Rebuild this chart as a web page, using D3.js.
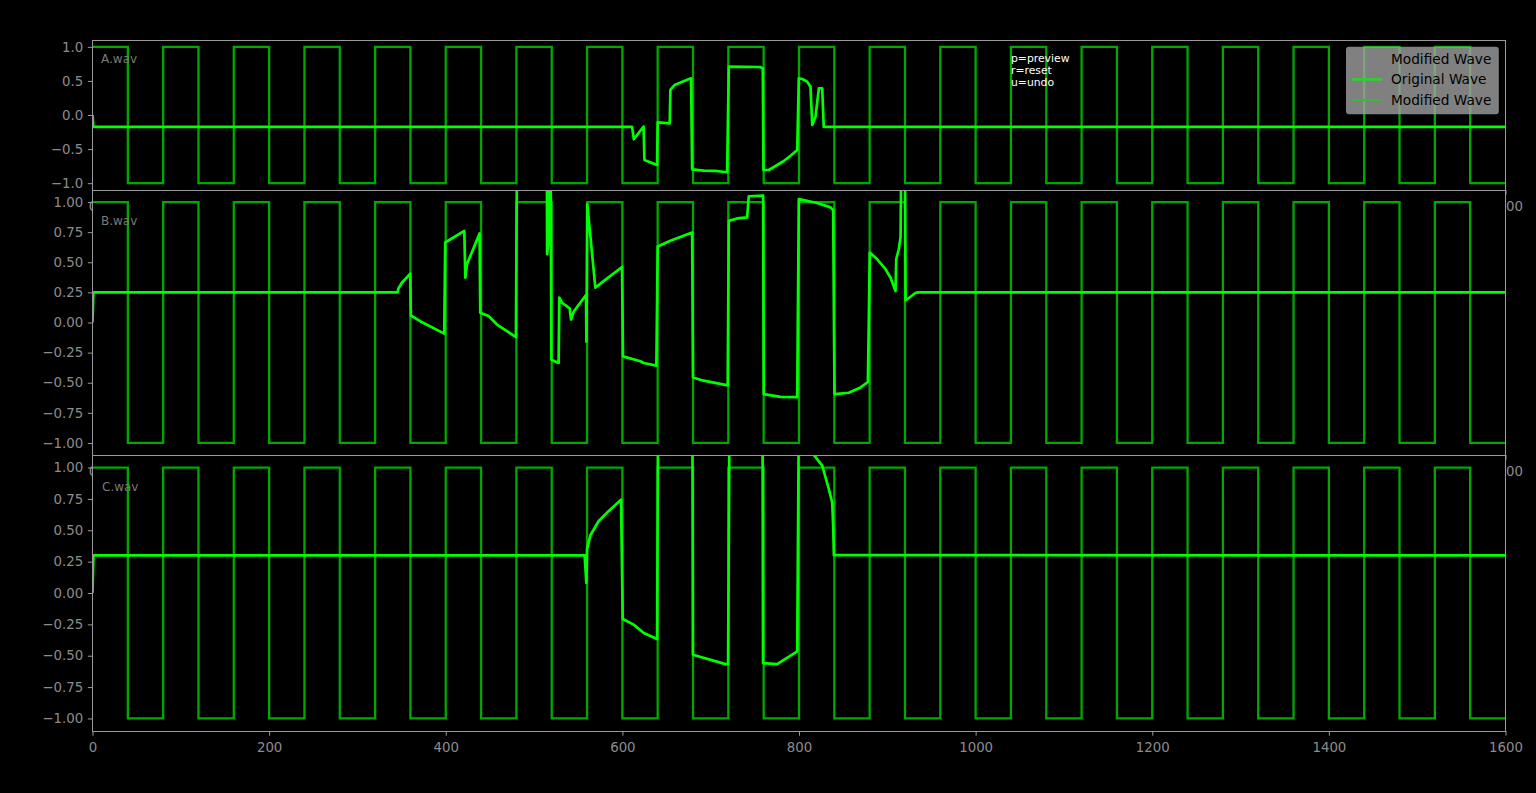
<!DOCTYPE html>
<html>
<head>
<meta charset="utf-8">
<script src="https://cdn.jsdelivr.net/npm/d3@7"></script>
<style>
  html, body { margin: 0; padding: 0; background: #000; }
  svg { display: block; }
  text { font-family: "DejaVu Sans", sans-serif; }
</style>
</head>
<body>
<script>
// ---------------- DATA ----------------
const xTicks = [0, 200, 400, 600, 800, 1000, 1200, 1400, 1600];
const yTicksTop = [-1, -0.5, 0, 0.5, 1];
const yTicksLower = [-1, -0.75, -0.5, -0.25, 0, 0.25, 0.5, 0.75, 1];

// Original square wave: level starts and levels (last entry is the end point)
const squareX = [0, 40, 80, 120, 160, 200, 240, 280, 320, 360, 400, 440, 480, 520, 560, 600,
  640, 680, 720, 760, 800, 840, 880, 920, 960, 1000, 1040, 1080, 1120, 1160, 1200, 1240,
  1280, 1320, 1360, 1400, 1440, 1480, 1520, 1560, 1600];
const squareY = [1, -1, 1, -1, 1, -1, 1, -1, 1, -1, 1, -1, 1, -1, 1, -1,
  1, -1, 1, -1, 1, -1, 1, -1, 1, -1, 1, -1, 1, -1, 1, -1,
  1, -1, 1, -1, 1, -1, 1, -1, -1];

// Modified waves [x, value]
const waveA = [
  [0, 0], [1, -0.175], [611, -0.175], [613, -0.356], [624, -0.17], [625, -0.66], [639.3, -0.733],
  [640, -0.108], [653.6, -0.122], [654.4, 0.367], [659, 0.44], [677.8, 0.538], [679, -0.797],
  [692, -0.817], [705, -0.82], [718.6, -0.84], [720.5, 0.709], [756, 0.704], [759, 0.684],
  [759.8, -0.807], [765.8, -0.807], [775.3, -0.733], [782.8, -0.675], [790.4, -0.597], [798, -0.513],
  [799.8, 0.538], [803.6, 0.528], [809.3, 0.489], [813, 0.416], [815, -0.147], [818.7, -0.025],
  [822.5, 0.39], [826.3, 0.39], [828, -0.175], [1600, -0.175]
];
const waveB = [
  [0, 0], [1, 0.25], [345.4, 0.25], [346.5, 0.283], [350.3, 0.33], [359.8, 0.405], [360.5, 0.058],
  [371, 0.011], [398.3, -0.092], [399.4, 0.664], [421, 0.761], [422.2, 0.372], [424, 0.483],
  [438.3, 0.739], [439.1, 0.081], [448.5, 0.053], [458, -0.017], [479.5, -0.122], [480.6, 1.35],
  [514.5, 1.35], [514.8, 0.567], [516.6, 0.68], [517.4, 1.35], [518.8, 1.35], [519.6, -0.31],
  [527.8, -0.336], [528.6, 0.206], [531.7, 0.164], [540.3, 0.117], [541.9, 0.025], [544.8, 0.089],
  [558.8, 0.228], [559.3, -0.16], [560.3, 0.98], [569.4, 0.29], [578.8, 0.344], [599.6, 0.461],
  [600.7, -0.281], [620.4, -0.322], [624.2, -0.336], [638.5, -0.358], [640, 0.631], [654.4, 0.678],
  [679, 0.747], [680, -0.456], [692, -0.483], [719.3, -0.522], [720.5, 0.844], [729.9, 0.864],
  [741.3, 0.872], [743.1, 1.048], [759.4, 1.053], [760.1, -0.594], [779, -0.617], [798, -0.619],
  [799.8, 1.025], [820.6, 0.992], [835.7, 0.956], [838.7, 0.933], [840.2, -0.594], [856.4, -0.583],
  [869.7, -0.539], [878, -0.494], [880.2, 0.581], [888.6, 0.525], [898, 0.442], [903.7, 0.372],
  [909.3, 0.261], [910.1, 0.525], [913, 0.608], [915, 0.706], [915.8, 1.35], [920, 1.35],
  [920.7, 0.183], [932.2, 0.247], [935, 0.25], [1600, 0.25]
];
const waveC = [
  [0, 0], [1, 0.3], [557.3, 0.3], [559.2, 0.081], [560, 0.348], [563.8, 0.46], [573.2, 0.574],
  [582.7, 0.641], [598.5, 0.743], [600.4, -0.207], [612.8, -0.252], [624.2, -0.319], [639.3, -0.367],
  [640.4, 1.4], [679.3, 1.4], [679.9, -0.492], [716.7, -0.567], [719.7, -0.567], [721.3, 1.4],
  [758.7, 1.4], [759.3, -0.559], [775.3, -0.567], [798, -0.465], [799.8, 1.4], [810, 1.2],
  [816.8, 1.1], [826.3, 1.015], [833.8, 0.828], [837.6, 0.721], [838.7, 0.535], [839.5, 0.302],
  [1600, 0.3]
];
const panelNames = ["A.wav", "B.wav", "C.wav"];
const legendLabels = ["Modified Wave", "Original Wave", "Modified Wave"];
const noteLines = ["p=preview", "r=reset", "u=undo"];

// ---------------- LAYOUT ----------------
const W = 1536, H = 793;
const left = 92.5, right = 1505.5;
const panelBox = [[40, 190], [190, 455], [455, 731]];
const spineColor = "#9a9a9a", tickTextColor = "#8c8c8c";
const tickLen = 4.67, tickPad = 4.67;

const svg = d3.select("body").append("svg")
  .attr("width", W).attr("height", H)
  .style("background", "#000");

const x = d3.scaleLinear().domain([0, 1600]).range([left, right]);
const squarePts = squareX.map((v, i) => [v, squareY[i]]);
const waves = [waveA, waveB, waveC];
const yTickSets = [yTicksTop, yTicksLower, yTicksLower];
const yFormats = [d3.format(".1f"), d3.format(".2f"), d3.format(".2f")];

waves.forEach((wave, i) => {
  const [top, bottom] = panelBox[i];
  const g = svg.append("g");
  const y = d3.scaleLinear().domain([-1.1, 1.1]).range([bottom, top]);

  g.append("rect").attr("x", left).attr("y", top)
    .attr("width", right - left).attr("height", bottom - top).attr("fill", "#000");

  const clipId = "clip" + i;
  svg.append("clipPath").attr("id", clipId).append("rect")
    .attr("x", left).attr("y", top).attr("width", right - left).attr("height", bottom - top);

  const plot = g.append("g").attr("clip-path", `url(#${clipId})`);

  plot.append("path")
    .attr("d", d3.line().x(d => x(d[0])).y(d => y(d[1])).curve(d3.curveStepAfter)(squarePts))
    .attr("fill", "none").attr("stroke", "rgb(0,168,0)")
    .attr("stroke-width", 2.3);

  plot.append("path")
    .attr("d", d3.line().x(d => x(d[0])).y(d => y(d[1]))(wave))
    .attr("fill", "none").attr("stroke", "#00ff00")
    .attr("stroke-width", 2.7).attr("stroke-linejoin", "round");

  // axes
  const yAxis = d3.axisLeft(y).tickValues(yTickSets[i]).tickFormat(yFormats[i])
    .tickSize(tickLen).tickPadding(tickPad);
  const ya = g.append("g").attr("transform", `translate(${left},0)`).call(yAxis);
  const xAxis = d3.axisBottom(x).tickValues(xTicks).tickFormat(d3.format("d"))
    .tickSize(tickLen).tickPadding(tickPad);
  const xa = g.append("g").attr("transform", `translate(0,${bottom})`).call(xAxis);
  [ya, xa].forEach(a => {
    a.select(".domain").remove();
    a.selectAll(".tick line").attr("stroke", spineColor).attr("stroke-width", 1);
    a.selectAll(".tick text").attr("fill", tickTextColor)
      .style("font-size", "13.33px").style("font-family", "DejaVu Sans");
  });
  xa.selectAll(".tick text").attr("dy", "0.85em");

  g.append("rect").attr("x", left).attr("y", top + 0.5)
    .attr("width", right - left).attr("height", bottom - top)
    .attr("fill", "none").attr("stroke", spineColor).attr("stroke-width", 1);

  g.append("text").attr("x", left + 8.5 + (i === 2 ? 1 : 0))
    .attr("y", top + 0.11 * (bottom - top) + 6)
    .attr("fill", "#7a7a7a").style("font-size", "12px").text(panelNames[i]);

  if (i === 0) {
    // notes
    g.selectAll("text.note").data(noteLines).join("text").attr("class", "note")
      .attr("x", 1011).attr("y", (d, k) => 62 + k * 11.8)
      .attr("fill", "#ffffff").style("font-size", "10.8px").text(d => d);

    // legend
    const lg = g.append("g");
    lg.append("rect").attr("x", 1346).attr("y", 46.7)
      .attr("width", 152.8).attr("height", 67.5).attr("rx", 3)
      .attr("fill", "#a0a0a0").attr("fill-opacity", 0.8);
    const legendStroke = [null, { c: "rgb(50,205,50)", w: 2.8 }, { c: "rgb(62,182,62)", w: 2.2 }];
    legendLabels.forEach((lab, k) => {
      const by = 63.5 + k * 20.7;
      if (legendStroke[k]) {
        lg.append("line").attr("x1", 1352).attr("x2", 1382)
          .attr("y1", by - 4.8).attr("y2", by - 4.8)
          .attr("stroke", legendStroke[k].c).attr("stroke-width", legendStroke[k].w);
      }
      lg.append("text").attr("x", 1391).attr("y", by)
        .attr("fill", "#000").style("font-size", "13.7px").text(lab);
    });
  }
});
</script>
</body>
</html>
